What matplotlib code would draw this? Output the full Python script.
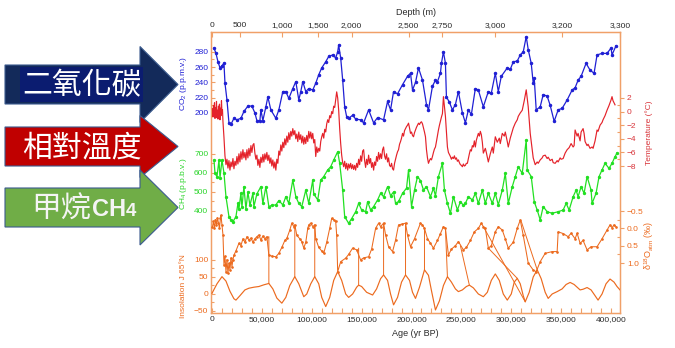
import numpy as np
import matplotlib
matplotlib.use('Agg')
import matplotlib.pyplot as plt
from matplotlib.patches import FancyArrow, Rectangle, ConnectionPatch
from matplotlib.ticker import FixedLocator, FuncFormatter

plt.rcParams['font.family'] = ['Liberation Sans', 'DejaVu Sans']
plt.rcParams['mathtext.default'] = 'regular'

# ---- data (age in kyr BP) ----
co2 = np.array([
    (2, 285), (4, 278), (6, 267), (8, 259), (10, 262), (12, 265), (13, 239), (15, 217), (17, 187), (19, 185),
    (22, 193), (25, 191), (29, 193), (32, 202), (36, 209), (40, 209), (43, 200), (45, 190), (48, 190), (49, 204),
    (51, 190), (54, 208), (56, 221), (59, 204), (64, 193), (67, 204), (71, 228), (74, 228), (77, 219), (81, 232),
    (84, 241), (87, 217), (89, 228), (91, 241), (94, 228), (97, 232), (101, 230), (104, 239), (107, 250), (110, 259),
    (114, 267), (117, 274), (121, 276), (124, 272), (126, 280), (127, 289), (129, 272), (131, 243), (133, 208), (135, 195),
    (137, 193), (141, 197), (144, 192), (149, 191), (152, 187), (157, 204), (162, 187), (166, 194), (172, 191), (176, 215),
    (179, 204), (182, 228), (186, 225), (191, 237), (196, 248), (199, 252), (201, 230), (204, 240), (207, 259), (211, 243),
    (215, 211), (217, 204), (221, 235), (224, 243), (226, 241), (229, 252), (230, 265), (232, 280), (234, 265), (235, 221),
    (238, 214), (241, 204), (244, 211), (247, 228), (251, 200), (254, 187), (257, 204), (260, 198), (264, 232), (267, 230),
    (272, 208), (277, 228), (280, 226), (284, 252), (287, 228), (290, 248), (296, 259), (299, 257), (302, 267), (306, 268),
    (309, 276), (312, 280), (315, 300), (317, 283), (320, 265), (322, 239), (323, 246), (325, 204), (329, 208), (332, 224),
    (336, 222), (339, 210), (343, 189), (347, 204), (351, 206), (356, 217), (361, 230), (364, 233), (367, 243), (370, 248),
    (375, 265), (379, 256), (383, 252), (386, 276), (391, 278), (396, 278), (400, 285), (401, 276), (405, 288)])

temperature = np.array([
    (0.5, 0.4), (1, -0.8), (1.5, 0.9), (2, -0.5), (2.5, 1.3), (3, -1.0), (3.5, 0.6), (4, -0.3), (4.5, 1.5), (5, -0.9),
    (5.5, 0.2), (6, -1.1), (6.5, 0.8), (7, -0.4), (7.5, 1.1), (8, -1.2), (8.5, 0.5), (9, -0.6), (9.5, 1.6), (10, -0.2),
    (10.5, 0.3), (11, -1.5), (12, -3.8), (13, -6.5), (14, -7.8), (15, -7.0), (16, -8.3), (17, -7.2), (18, -8.6), (19, -7.4),
    (20, -8.1), (21, -6.9), (22, -8.4), (23, -7.3), (24, -7.9), (25, -6.6), (26, -7.7), (27, -6.2), (28, -7.4), (29, -5.9),
    (30, -7.0), (31, -5.6), (32, -6.8), (33, -6.0), (34, -7.1), (35, -5.6), (36, -6.8), (37, -5.4), (38, -6.5), (39, -5.0),
    (40, -6.0), (41, -4.9), (42, -4.7), (43, -6.1), (44, -7.0), (45, -6.4), (46, -7.9), (47, -7.0), (48, -8.2), (49, -6.7),
    (50, -7.5), (51, -6.3), (52, -7.4), (53, -6.2), (54, -7.0), (55, -6.0), (56, -7.2), (57, -6.4), (58, -7.6), (59, -6.8),
    (60, -8.0), (61, -7.1), (62, -8.3), (63, -7.4), (64, -8.6), (65, -7.0), (66, -7.6), (67, -5.8), (68, -6.4), (69, -4.9),
    (70, -5.8), (71, -4.5), (72, -5.3), (73, -4.0), (74, -4.9), (75, -3.6), (76, -4.5), (77, -3.1), (78, -4.1), (79, -2.9),
    (80, -3.6), (81, -2.5), (82, -3.4), (83, -2.8), (84, -4.0), (85, -3.3), (86, -4.4), (87, -3.0), (88, -4.1), (89, -3.4),
    (90, -4.6), (91, -3.6), (92, -4.8), (93, -3.8), (94, -4.7), (95, -3.5), (96, -4.4), (97, -2.9), (98, -3.9), (99, -3.0),
    (100, -4.0), (101, -3.2), (102, -4.6), (103, -4.1), (104, -6.6), (105, -5.2), (106, -6.0), (107, -5.4), (108, -5.8), (109, -4.4),
    (110, -3.7), (111, -3.2), (112, -3.9), (113, -2.6), (114, -3.0), (115, -1.8), (116, -1.2), (117, -1.6), (118, -0.6), (119, -0.9),
    (120, 0.0), (121, -0.3), (122, 0.8), (123, 0.6), (124, 1.8), (125, 2.9), (126, 2.0), (127, 0.2), (128, -2.5), (129, -4.7),
    (130, -6.4), (131, -7.5), (132, -8.1), (133, -7.3), (134, -8.4), (135, -7.6), (136, -8.6), (137, -7.7), (138, -8.3), (139, -7.6),
    (140, -8.4), (141, -7.8), (142, -8.5), (143, -7.9), (144, -8.6), (145, -7.6), (146, -8.2), (147, -7.0), (148, -7.8), (149, -6.5),
    (150, -7.3), (151, -5.8), (152, -5.6), (153, -7.2), (154, -8.2), (155, -7.0), (156, -7.8), (157, -6.4), (158, -7.6), (159, -6.9),
    (160, -8.2), (161, -7.5), (162, -8.6), (163, -7.4), (164, -7.9), (165, -6.6), (166, -7.3), (167, -6.0), (168, -7.0), (169, -6.2),
    (170, -6.9), (171, -5.6), (172, -5.2), (173, -6.5), (174, -7.0), (175, -6.2), (176, -7.4), (177, -6.8), (178, -7.9), (179, -8.1),
    (180, -7.6), (181, -8.4), (182, -8.6), (183, -7.6), (184, -7.0), (185, -6.4), (186, -5.9), (187, -5.6), (188, -4.8), (189, -4.4),
    (190, -3.9), (191, -3.2), (192, -3.6), (193, -2.8), (194, -2.5), (195, -2.2), (196, -2.0), (197, -1.7), (198, -2.4), (199, -3.2),
    (200, -3.0), (201, -3.5), (202, -3.7), (203, -3.1), (204, -2.7), (205, -2.3), (206, -2.0), (207, -1.7), (208, -1.9), (209, -1.6),
    (210, -1.5), (211, -1.8), (212, -2.4), (213, -3.0), (214, -3.7), (215, -5.6), (216, -6.8), (217, -7.6), (218, -7.2), (219, -6.9),
    (220, -7.1), (221, -6.6), (222, -6.0), (223, -5.5), (224, -5.2), (225, -4.4), (226, -3.5), (227, -2.7), (228, -2.0), (229, -1.4),
    (230, -0.8), (231, -0.3), (232, 2.2), (233, 0.8), (234, -0.7), (235, -3.0), (236, -5.2), (237, -6.0), (238, -6.3), (239, -6.6),
    (240, -7.0), (241, -6.7), (242, -6.9), (243, -6.5), (244, -7.0), (245, -6.8), (246, -7.3), (247, -7.1), (248, -7.5), (249, -7.8),
    (250, -7.9), (251, -8.1), (252, -7.7), (253, -8.0), (254, -7.9), (255, -7.6), (256, -7.6), (257, -6.9), (258, -6.2), (259, -5.6),
    (260, -5.8), (261, -5.0), (262, -5.2), (263, -4.3), (264, -5.2), (265, -4.2), (266, -3.7), (267, -3.2), (268, -3.6), (269, -2.9),
    (270, -3.4), (271, -4.5), (272, -6.1), (274, -5.4), (275, -6.0), (277, -7.4), (279, -6.2), (281, -5.2), (282, -6.1), (284, -3.7),
    (286, -4.5), (288, -3.9), (289, -4.7), (291, -3.2), (293, -3.6), (294, -3.0), (296, -4.4), (297, -5.2), (299, -3.9), (301, -2.9),
    (302, -2.4), (304, -1.7), (306, -1.2), (307, -0.7), (309, -0.2), (311, 0.2), (313, 1.6), (315, 3.2), (316, 2.0), (317, 0.7),
    (319, -3.2), (321, -5.6), (322, -6.8), (324, -7.8), (326, -7.4), (327, -7.6), (329, -7.1), (331, -6.8), (332, -6.5), (334, -6.4),
    (336, -6.9), (337, -6.7), (339, -7.2), (341, -7.0), (342, -7.5), (344, -7.6), (346, -7.2), (347, -7.4), (349, -6.8), (350, -7.0),
    (352, -6.9), (354, -6.1), (356, -5.6), (358, -5.3), (360, -4.7), (362, -5.2), (363, -5.0), (364, -2.7), (366, -3.6), (367, -3.2),
    (369, -4.3), (370, -3.0), (372, -2.5), (373, -3.2), (374, -4.4), (376, -5.0), (377, -4.8), (379, -5.4), (381, -5.2), (382, -5.4),
    (384, -4.3), (386, -2.7), (387, -2.9), (389, -2.0), (391, -1.6), (392, -1.2), (394, -0.6), (396, 0.2), (398, 0.9), (400, 1.7),
    (401, 2.2), (402, 1.6), (403, 1.3), (404, 1.0)])

ch4 = np.array([
    (2, 668), (3, 598), (5, 581), (7, 668), (8, 574), (10, 668), (12, 600), (14, 475), (17, 370), (19, 353),
    (21, 344), (24, 370), (26, 440), (27, 410), (29, 493), (30, 420), (32, 528), (34, 410), (36, 500), (38, 430),
    (41, 493), (42, 423), (45, 490), (49, 528), (51, 440), (54, 528), (57, 423), (60, 430), (64, 432), (67, 455),
    (71, 432), (74, 475), (77, 440), (81, 563), (84, 475), (87, 440), (90, 423), (94, 510), (97, 440), (101, 563),
    (102, 490), (106, 458), (109, 563), (112, 581), (116, 616), (119, 633), (122, 668), (126, 712), (128, 651), (131, 510),
    (133, 370), (137, 335), (140, 360), (144, 396), (147, 440), (150, 405), (154, 396), (156, 449), (159, 405), (162, 423),
    (166, 458), (169, 493), (172, 475), (176, 528), (179, 480), (182, 500), (184, 440), (187, 450), (191, 493), (195, 520),
    (197, 616), (200, 423), (203, 510), (206, 581), (209, 560), (212, 510), (215, 528), (219, 475), (222, 520), (224, 480),
    (227, 581), (231, 651), (233, 510), (236, 440), (239, 388), (242, 475), (246, 405), (249, 449), (252, 430), (254, 440),
    (257, 475), (261, 458), (264, 493), (267, 440), (271, 510), (274, 440), (277, 493), (281, 440), (284, 493), (287, 432),
    (291, 510), (294, 598), (297, 440), (301, 528), (304, 581), (307, 633), (311, 598), (315, 774), (316, 616), (320, 581),
    (323, 449), (326, 405), (329, 353), (332, 423), (336, 396), (341, 388), (347, 396), (352, 405), (355, 440), (358, 405),
    (362, 475), (365, 510), (367, 475), (370, 528), (373, 493), (376, 581), (380, 510), (381, 440), (385, 493), (388, 581),
    (391, 616), (394, 651), (398, 624), (401, 651), (404, 686), (406, 705)])

d18o_atm = np.array([
    (0.5, -0.05), (1.5, -0.2), (2.5, 0.0), (3.5, -0.25), (4.5, -0.1), (5.5, -0.3), (6.5, -0.15), (7.5, 0.0), (8.5, -0.3), (9, -0.38),
    (10, -0.1), (11, 0.19), (12, 1.05), (13, 0.8), (14, 1.25), (15, 0.9), (16, 1.3), (17, 1.0), (18, 1.2), (19, 0.85),
    (20, 1.1), (21, 0.9), (22, 0.77), (24, 0.65), (27, 0.43), (29, 0.5), (31, 0.3), (33, 0.4), (35, 0.24), (37, 0.34),
    (39, 0.28), (41, 0.4), (43, 0.3), (45, 0.24), (47, 0.19), (49, 0.34), (51, 0.22), (53, 0.3), (55, 0.24), (57, 0.77),
    (60, 0.8), (64, 0.82), (67, 0.72), (70, 0.55), (73, 0.35), (75, 0.29), (78, 0.05), (80, -0.15), (82, -0.05), (83, -0.1),
    (85, 0.2), (88, 0.3), (90, 0.38), (92, 0.57), (94, 0.4), (96, 0.0), (97, -0.1), (99, -0.15), (101, -0.05), (103, -0.1),
    (104, 0.3), (107, 0.55), (110, 0.65), (112, 0.72), (115, 0.4), (118, 0.0), (120, -0.29), (122, -0.25), (124, -0.2), (125, 0.2),
    (126, 1.25), (129, 0.96), (134, 0.86), (137, 0.75), (141, 0.57), (145, 0.62), (149, 0.91), (152, 0.85), (157, 0.82), (160, 0.6),
    (164, 0.0), (167, -0.15), (169, -0.05), (172, -0.15), (174, 0.19), (177, 0.53), (181, 0.67), (184, 0.34), (187, -0.1), (190, -0.12),
    (194, -0.15), (196, 0.2), (199, 0.53), (203, 0.3), (209, -0.15), (211, -0.1), (213, 0.0), (216, 0.3), (219, 0.43), (222, 0.57),
    (226, 0.35), (229, 0.15), (232, -0.05), (234, 0.0), (237, 0.77), (240, 0.6), (244, 0.5), (247, 0.38), (252, 0.62), (255, 0.55),
    (259, 0.35), (263, 0.1), (267, 0.0), (270, -0.15), (272, -0.05), (274, 0.0), (277, 0.57), (280, 0.5), (284, 0.1), (287, -0.05),
    (291, 0.05), (294, 0.3), (297, 0.57), (302, 0.4), (306, 0.0), (309, -0.24), (312, 0.2), (317, 1.0), (322, 1.2), (325, 1.25),
    (329, 0.96), (334, 0.72), (341, 0.67), (346, 0.67), (347, 0.1), (352, 0.15), (357, 0.24), (360, 0.14), (364, 0.3), (366, 0.14),
    (369, 0.43), (372, 0.35), (376, 0.62), (380, 0.53), (386, 0.53), (391, 0.3), (396, 0.05), (399, -0.1), (401, -0.02), (403, -0.1),
    (405, -0.05)])

insolation = np.array([
    (0, 2), (5, 30), (10, 51), (14, 38), (18, 8), (22, -14), (24, -18), (28, -5), (33, 12), (37, 17),
    (42, 20), (47, 22), (52, 27), (57, 31), (61, 15), (65, -12), (70, -27), (74, -10), (78, 25), (83, 51),
    (87, 30), (92, -8), (95, 0), (99, 30), (103, 51), (107, 30), (110, -10), (114, -37), (118, -10), (122, 40),
    (126, 66), (130, 40), (134, 0), (137, -10), (141, 0), (145, 20), (147, 26), (150, 22), (155, 5), (161, -3),
    (165, 15), (169, 45), (172, 56), (176, 40), (179, 0), (182, -32), (186, -10), (190, 35), (194, 56), (198, 40),
    (201, 5), (204, -13), (208, 20), (213, 71), (217, 55), (220, 10), (224, -47), (228, -20), (232, 25), (236, 51),
    (240, 35), (244, 15), (247, 7), (251, 12), (255, 22), (258, 26), (262, 18), (267, 0), (272, -8), (276, 5),
    (280, 40), (284, 59), (288, 40), (292, 0), (296, -18), (300, 0), (303, 35), (306, 46), (309, 30), (312, -5),
    (314, -23), (318, 5), (322, 50), (326, 71), (330, 45), (334, 5), (337, -13), (341, 0), (346, 7), (351, 15),
    (355, 28), (359, 34), (363, 28), (369, 12), (372, 14), (376, 19), (380, 12), (384, -5), (387, -18), (391, 0),
    (395, 30), (399, 44), (403, 35), (406, 22), (409, 12)])

# lines joining d18O features to insolation: (age, d18O, age, insolation)
tie_lines = [(57, 0.24, 57, 31), (83, -0.1, 83, 51), (103, -0.1, 103, 51), (147, 0.57, 147, 26),
             (172, -0.15, 172, 56), (194, -0.15, 194, 56), (213, 0.0, 213, 71), (234, 0.0, 236, 51),
             (249, 0.5, 258, 26), (272, -0.05, 314, -23), (277, 0.57, 306, 46), (310, -0.2, 326, 71)]

depth_ticks = [0, 500, 1000, 1500, 2000, 2500, 2750, 3000, 3200, 3300]
depth_tick_ages = [0, 28, 70, 106, 140, 197, 231, 284, 351, 409]

arrow_labels = ['二氧化碳', '相對溫度', '甲烷']

# ---- styling ----
blue, red, green, orange = '#2020d4', '#e4222a', '#22e022', '#ec6a1e'
frame = '#f0a068'
W, H = 675, 348


def rect(x0, y0, x1, y1):
    return [x0 / W, 1 - y1 / H, (x1 - x0) / W, (y1 - y0) / H]


fig = plt.figure(figsize=(6.75, 3.48), dpi=100)

# arrows on the left
ov = fig.add_axes([0, 0, 1, 1], label='arrows')
ov.set_xlim(0, W)
ov.set_ylim(H, 0)
ov.axis('off')
edge = '#3b5b8e'
ov.add_patch(FancyArrow(5, 84.5, 173, 0, width=39, head_width=76, head_length=38,
                        length_includes_head=True, fc='#132a5a', ec=edge, lw=0.8))
ov.add_patch(Rectangle((20, 67), 123, 35, fc='#0b1c70', ec='none'))
ov.add_patch(FancyArrow(5, 146.5, 173, 0, width=39, head_width=62, head_length=38,
                        length_includes_head=True, fc='#c00000', ec=edge, lw=0.8))
ov.add_patch(FancyArrow(5, 207.5, 173, 0, width=39, head_width=75, head_length=38,
                        length_includes_head=True, fc='#70ad47', ec=edge, lw=0.8))
cjk = ['Noto Sans CJK TC', 'DejaVu Sans']
ov.text(82, 86, arrow_labels[0], fontsize=21.5, color='white', family=cjk, ha='center', va='center')
ov.text(82, 148, arrow_labels[1], fontsize=21.5, color='white', family=cjk, ha='center', va='center')
ov.text(31, 209, arrow_labels[2], fontsize=21.5, color='#f4f4f4', family=cjk, ha='left', va='center')
ch = ov.text(92, 210, 'CH', fontsize=17, color='#f4f4f4', weight='bold', ha='left', va='center')
ov.annotate('4', xy=(1, 0.08), xycoords=ch, fontsize=13.5, color='#f4f4f4', weight='bold',
            ha='left', va='bottom')

# main frame with age axis
box = rect(211, 32, 620, 313)
ax = fig.add_axes(box, label='frame')
ax.set_xlim(-1, 409)
ax.set_yticks([])
for s in ax.spines.values():
    s.set_color(frame)
    s.set_linewidth(1.0)
ax.xaxis.set_major_locator(FixedLocator(range(0, 401, 50)))
ax.xaxis.set_minor_locator(FixedLocator(range(0, 409, 10)))
ax.xaxis.set_major_formatter(FuncFormatter(lambda v, p: f'{int(round(v * 1000)):,}'))
ax.tick_params(axis='x', which='both', direction='in', color=frame, labelcolor='#2a2a2a',
               labelsize=6, pad=2.5, length=3.5, width=0.8)
ax.set_xlabel('Age (yr BP)', fontsize=6.5, color='#2a2a2a', labelpad=4)

top = ax.twiny()
top.set_xlim(ax.get_xlim())
top.set_xticks(depth_tick_ages, [f'{d:,}' for d in depth_ticks])
top.xaxis.set_minor_locator(FixedLocator([]))
top.tick_params(axis='x', direction='in', color=frame, labelcolor='#2a2a2a', labelsize=6,
                length=3.5, width=0.8, pad=2)
for s in top.spines.values():
    s.set_color(frame)
top.set_xlabel('Depth (m)', fontsize=6.5, color='#2a2a2a', labelpad=5)


def layer(name, ylim, side, majors, minors, labelcolor):
    a = fig.add_axes(box, label=name, sharex=ax)
    a.patch.set_visible(False)
    for s in a.spines.values():
        s.set_visible(False)
    a.xaxis.set_visible(False)
    a.set_ylim(*ylim)
    a.yaxis.set_ticks_position(side)
    a.yaxis.set_major_locator(FixedLocator(majors))
    a.yaxis.set_minor_locator(FixedLocator(minors))
    d = 'in' if side == 'left' else 'out'
    a.tick_params(axis='y', which='major', direction=d, length=3, width=0.8, color=frame,
                  labelcolor=labelcolor, labelsize=6, pad=2)
    a.tick_params(axis='y', which='minor', direction='in', length=2.5, width=0.8, color=frame)
    return a


ax_co2 = layer('co2', (-62, 306), 'left', [200, 220, 240, 260, 280], [210, 230, 250, 270], blue)
ax_t = layer('temp', (-29.6, 11.7), 'right', [-8, -6, -4, -2, 0, 2], [-7, -5, -3, -1, 1], '#d8343a')
ax_ch4 = layer('ch4', (-137, 1342), 'left', [400, 500, 600, 700], [450, 550, 650], '#2ad42a')
ax_d = layer('d18o', (2.44, -5.66), 'right', [-0.5, 0.0, 0.5, 1.0], [-0.25, 0.25, 0.75], orange)
ax_ins = layer('ins', (-55.9, 770.6), 'left', [-50, 0, 50, 100], [-25, 25, 75], orange)
ax_d.yaxis.set_major_formatter(FuncFormatter(lambda v, p: f'{v:.1f}'.replace('-', '\u2212')))

ax_co2.plot(co2[:, 0], co2[:, 1], color=blue, lw=0.9, marker='o', ms=1.5)
ax_t.plot(temperature[:, 0], temperature[:, 1], color=red, lw=0.85)
ax_ch4.plot(ch4[:, 0], ch4[:, 1], color=green, lw=0.9, marker='o', ms=1.4)
ax_d.plot(d18o_atm[:, 0], d18o_atm[:, 1], color=orange, lw=0.75, marker='o', ms=0.9)
ax_ins.plot(insolation[:, 0], insolation[:, 1], color=orange, lw=0.85, solid_joinstyle='round')
for a1, v1, a2, v2 in tie_lines:
    fig.add_artist(ConnectionPatch(xyA=(a1, v1), coordsA=ax_d.transData,
                                   xyB=(a2, v2), coordsB=ax_ins.transData,
                                   color=orange, lw=0.7))

# axis titles
fig.text(183 / W, 1 - 83 / H, 'CO$_2$ (p.p.m.v.)', rotation=90, ha='center', va='center', fontsize=6, color=blue)
fig.text(183 / W, 1 - 184 / H, 'CH$_4$ (p.p.b.v.)', rotation=90, ha='center', va='center', fontsize=6, color='#2ad42a')
fig.text(183 / W, 1 - 286 / H, 'Insolation J 65°N', rotation=90, ha='center', va='center', fontsize=6, color=orange)
fig.text(649 / W, 1 - 133 / H, 'Temperature (°C)', rotation=90, ha='center', va='center', fontsize=6, color='#d8343a')
fig.text(649 / W, 1 - 245 / H, 'δ$^{18}$O$_{atm}$ (‰)', rotation=90, ha='center', va='center', fontsize=6.5, color=orange)

fig.savefig('out.png', dpi=100)
